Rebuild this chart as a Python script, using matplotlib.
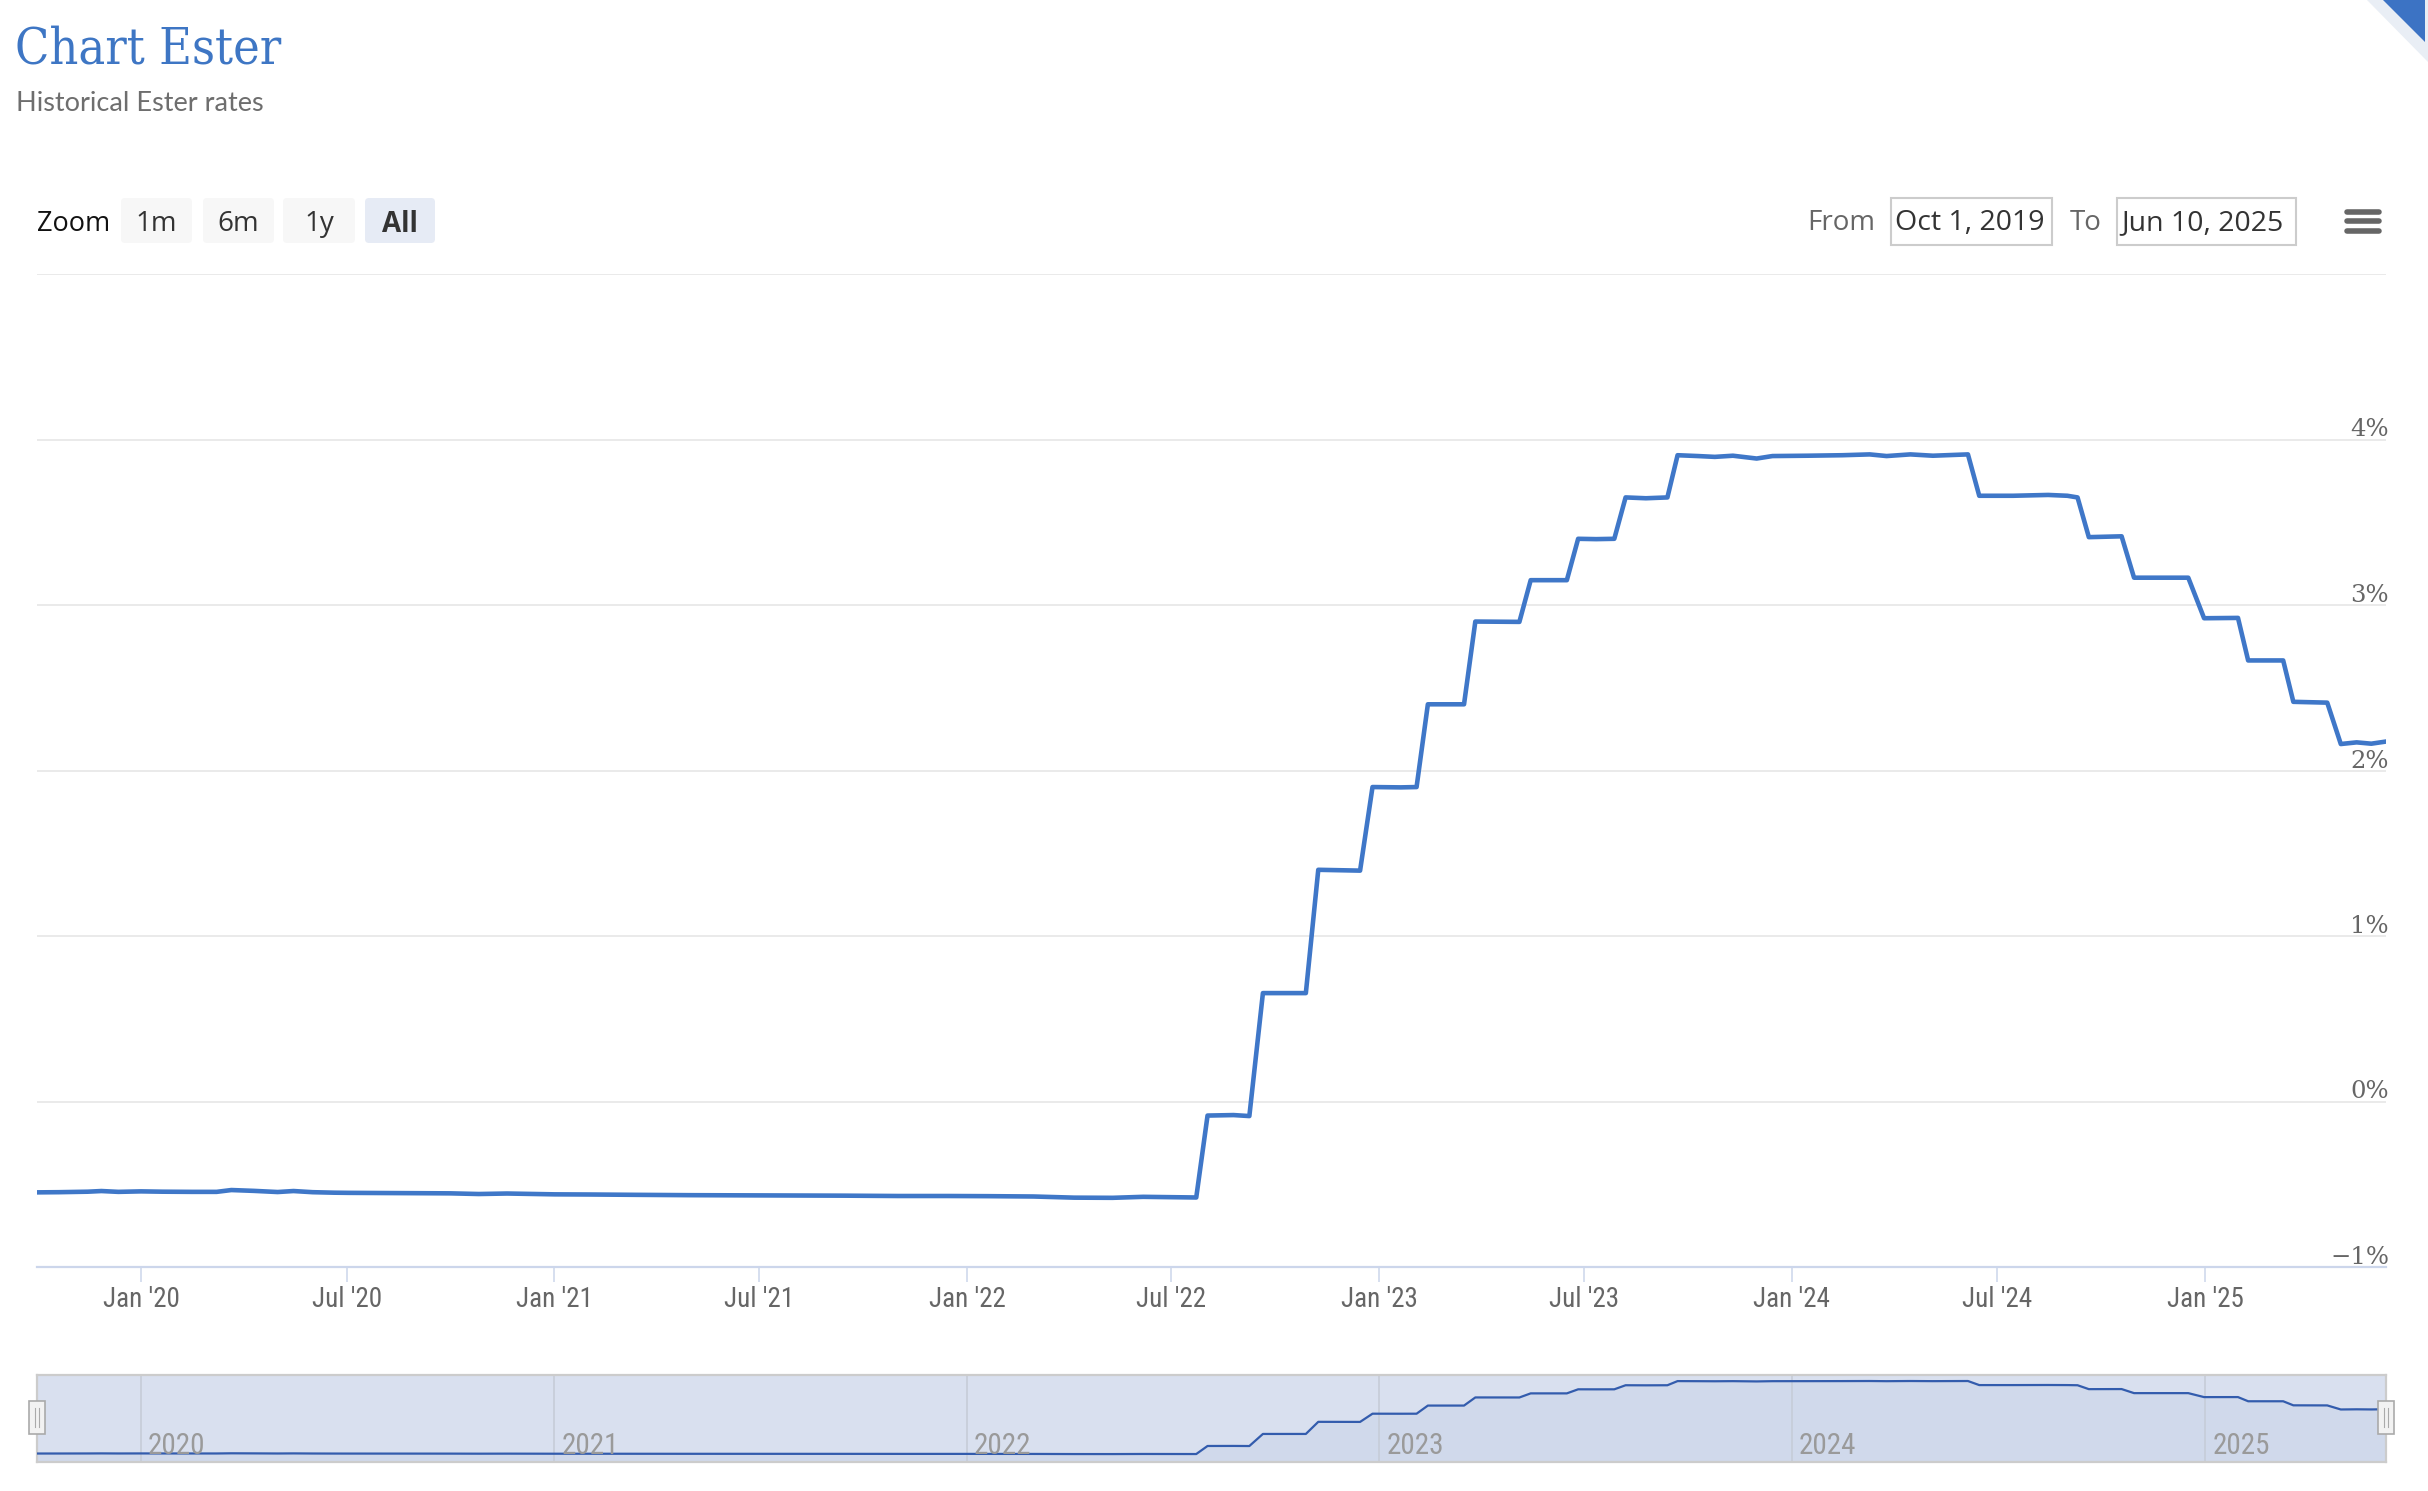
import pandas as pd
import matplotlib
matplotlib.use('Agg')
import matplotlib.pyplot as plt
from matplotlib import font_manager
from matplotlib.patches import FancyBboxPatch, Rectangle, Polygon
from matplotlib.lines import Line2D
from matplotlib.transforms import IdentityTransform, blended_transform_factory, offset_copy

W, H = 2428, 1491

# ester rate (percent)
dates = [
    '2019-10-01', '2019-10-20', '2019-11-15', '2019-11-27', '2019-12-12', '2020-01-01',
    '2020-01-20', '2020-02-15', '2020-03-08', '2020-03-21', '2020-04-10', '2020-05-01',
    '2020-05-15', '2020-06-01', '2020-06-20', '2020-07-03', '2020-08-01', '2020-09-01',
    '2020-10-01', '2020-10-26', '2020-11-20', '2021-01-01', '2021-02-02', '2021-03-15',
    '2021-05-01', '2021-06-15', '2021-08-01', '2021-09-15', '2021-11-01', '2021-12-15',
    '2022-01-20', '2022-03-01', '2022-04-06', '2022-05-10', '2022-06-06', '2022-07-23',
    '2022-08-02', '2022-08-25', '2022-09-08',
    '2022-09-20', '2022-10-28',
    '2022-11-08', '2022-12-15',
    '2022-12-26', '2023-01-20', '2023-02-03',
    '2023-02-13', '2023-03-17',
    '2023-03-27', '2023-05-05',
    '2023-05-15', '2023-06-16',
    '2023-06-26', '2023-07-12', '2023-07-28',
    '2023-08-07', '2023-08-25', '2023-09-13',
    '2023-09-22', '2023-10-10', '2023-10-25', '2023-11-10', '2023-12-01', '2023-12-15',
    '2024-01-15', '2024-02-15', '2024-03-10', '2024-03-25', '2024-04-15', '2024-05-05',
    '2024-06-05',
    '2024-06-15', '2024-07-15', '2024-08-15', '2024-09-01', '2024-09-10',
    '2024-09-20', '2024-10-19',
    '2024-10-30', '2024-12-17',
    '2024-12-31', '2025-01-30',
    '2025-02-08', '2025-03-11',
    '2025-03-20', '2025-04-19',
    '2025-05-01', '2025-05-15', '2025-05-28', '2025-06-10',
]
rates = [
    -0.549, -0.548, -0.545, -0.541, -0.546, -0.543,
    -0.545, -0.546, -0.546, -0.535, -0.540, -0.547,
    -0.541, -0.548, -0.551, -0.552, -0.553, -0.554,
    -0.555, -0.559, -0.556, -0.561, -0.562, -0.564,
    -0.566, -0.567, -0.568, -0.569, -0.571, -0.571,
    -0.572, -0.574, -0.581, -0.582, -0.576, -0.580,
    -0.085, -0.082, -0.088,
    0.655, 0.655,
    1.400, 1.395,
    1.900, 1.898, 1.900,
    2.400, 2.400,
    2.900, 2.898,
    3.150, 3.150,
    3.400, 3.398, 3.400,
    3.650, 3.645, 3.650,
    3.905, 3.900, 3.895, 3.902, 3.885, 3.900,
    3.902, 3.905, 3.910, 3.900, 3.910, 3.902,
    3.910,
    3.660, 3.660, 3.665, 3.660, 3.650,
    3.410, 3.415,
    3.165, 3.165,
    2.920, 2.922,
    2.665, 2.665,
    2.415, 2.410,
    2.160, 2.170, 2.162, 2.175,
]

x_ticks = ['2020-01-01', '2020-07-01', '2021-01-01', '2021-07-01', '2022-01-01', '2022-07-01',
           '2023-01-01', '2023-07-01', '2024-01-01', '2024-07-01', '2025-01-01']
x_tick_labels = ["Jan '20", "Jul '20", "Jan '21", "Jul '21", "Jan '22", "Jul '22",
                 "Jan '23", "Jul '23", "Jan '24", "Jul '24", "Jan '25"]
y_ticks = [-1, 0, 1, 2, 3, 4, 5]
y_tick_labels = ['\u22121%', '0%', '1%', '2%', '3%', '4%', '']
nav_years = ['2020', '2021', '2022', '2023', '2024', '2025']
zoom_buttons = ['1m', '6m', '1y', 'All']
date_from = 'Oct 1, 2019'
date_to = 'Jun 10, 2025'

installed = {f.name for f in font_manager.fontManager.ttflist}


def pick(*names):
    for n in names:
        if n in installed:
            return n
    return 'DejaVu Sans'


narrow = pick('Liberation Sans Narrow', 'Roboto Condensed', 'Open Sans Condensed', 'DejaVu Sans')
ui = pick('Open Sans', 'Noto Sans', 'DejaVu Sans')
sub = pick('Lato', 'Open Sans')

fig = plt.figure(figsize=(W / 100, H / 100), dpi=100)
fig.patch.set_facecolor('white')
px = IdentityTransform()

x0, x1 = 37, 2386
t_start, t_end = pd.Timestamp('2019-10-01'), pd.Timestamp('2025-06-10')
d = pd.to_datetime(dates)

# main chart
ax = fig.add_axes([x0 / W, (H - 1267) / H, (x1 - x0) / W, (1267 - 274) / H])
ax.plot(d, rates, color='#3f77c8', lw=3.3, solid_joinstyle='round', zorder=3)
ax.set_xlim(t_start, t_end)
ax.set_ylim(-1, 5)
for s in ['top', 'right', 'left']:
    ax.spines[s].set_visible(False)
ax.spines['bottom'].set_color('#ccd6eb')
ax.spines['bottom'].set_linewidth(1.6)
ax.set_yticks(y_ticks)
ax.yaxis.grid(True, color='#e6e6e6', lw=1.2)
ax.tick_params(axis='y', length=0, labelleft=False)
ax.set_xticks(pd.to_datetime(x_ticks))
ax.set_xticklabels(x_tick_labels, fontsize=19.5, color='#666666', family=narrow)
ax.tick_params(axis='x', length=11, width=1.1, color='#ccd6eb', pad=3)
ytr = offset_copy(blended_transform_factory(ax.transAxes, ax.transData), fig=fig, x=3, y=-2, units='dots')
for v, lab in zip(y_ticks, y_tick_labels):
    ax.text(1.0, v, lab, transform=ytr, ha='right', va='bottom', fontsize=17.5,
            color='#666666', family='DejaVu Serif')

# navigator
nav = fig.add_axes([x0 / W, (H - 1462) / H, (x1 - x0) / W, (1462 - 1375) / H])
nav.set_facecolor('#d9e0ef')
nav.plot(d, rates, color='#335cad', lw=1.6, zorder=3)
nav.fill_between(d, rates, -1.07, color='#335cad', alpha=0.05, lw=0)
nav.set_xlim(t_start, t_end)
nav.set_ylim(-1.07, 4.28)
year_dates = pd.to_datetime([y + '-01-01' for y in nav_years])
nav.set_xticks(year_dates)
nav.xaxis.grid(True, color='#c6ccd8', lw=1.2)
nav.tick_params(length=0, labelbottom=False, labelleft=False)
nav.set_yticks([])
for s in nav.spines.values():
    s.set_color('#cccccc')
    s.set_linewidth(1.6)
ntr = offset_copy(blended_transform_factory(nav.transData, nav.transAxes), fig=fig, x=7, y=2, units='dots')
for yd, lab in zip(year_dates, nav_years):
    nav.text(yd, 0, lab, transform=ntr, ha='left', va='bottom', fontsize=21,
             color='#9a9a9a', family=narrow)

# navigator handles
for hx in [x0, x1]:
    fig.add_artist(Rectangle((hx - 8, H - 1434), 16, 33, transform=px,
                             facecolor='#f2f2f2', edgecolor='#aaaaaa', lw=1.2))
    for dx in [-2, 2]:
        fig.add_artist(Line2D([hx + dx, hx + dx], [H - 1427, H - 1408], transform=px,
                              color='#aaaaaa', lw=0.8))

# title
fig.text(15, H - 63, 'Chart Ester', transform=px, fontsize=36, color='#3e76c4',
         family='DejaVu Serif', fontstretch='condensed', va='baseline')
fig.text(16, H - 111, 'Historical Ester rates', transform=px, fontsize=19.5,
         color='#6e6e6e', family=sub, va='baseline')

# range selector
fig.text(37, H - 224, 'Zoom', transform=px, fontsize=19.5, color='#111111', family=ui, va='center')
btn_x = [(121, 192), (203, 274), (283, 355), (365, 435)]
for (bx0, bx1), lab in zip(btn_x, zoom_buttons):
    active = lab == 'All'
    fig.add_artist(FancyBboxPatch((bx0, H - 243), bx1 - bx0, 45, transform=px,
                                  boxstyle='round,pad=0,rounding_size=4',
                                  facecolor='#e6ebf5' if active else '#f7f7f7', edgecolor='none'))
    fig.text((bx0 + bx1) / 2, H - 224, lab, transform=px, fontsize=20, color='#333333',
             family=ui, ha='center', va='center', fontweight='bold' if active else 'normal')

fig.text(1875, H - 223, 'From', transform=px, fontsize=20, color='#666666', family=ui,
         ha='right', va='center')
fig.text(2102, H - 223, 'To', transform=px, fontsize=20, color='#666666', family=ui,
         ha='right', va='center')
for (bx0, bx1), lab in zip([(1891, 2052), (2117, 2296)], [date_from, date_to]):
    fig.add_artist(Rectangle((bx0, H - 245), bx1 - bx0, 47, transform=px,
                             facecolor='white', edgecolor='#cccccc', lw=1.5))
    fig.text(bx0 + 4, H - 223, lab, transform=px, fontsize=20.5, color='#333333', family=ui,
             ha='left', va='center')

# export menu icon
for yy in [212, 221, 231]:
    fig.add_artist(Line2D([2347, 2379], [H - yy, H - yy], transform=px, color='#666666',
                          lw=4, solid_capstyle='round'))

# corner ribbon
fig.add_artist(Polygon([(2367, H), (W, H), (W, H - 62)], closed=True, transform=px,
                       facecolor='#e9eef5', edgecolor='none'))
fig.add_artist(Polygon([(2383, H), (2425, H), (2425, H - 42)], closed=True, transform=px,
                       facecolor='#3c73c4', edgecolor='none'))

fig.savefig('out.png', dpi=100, facecolor='white')
